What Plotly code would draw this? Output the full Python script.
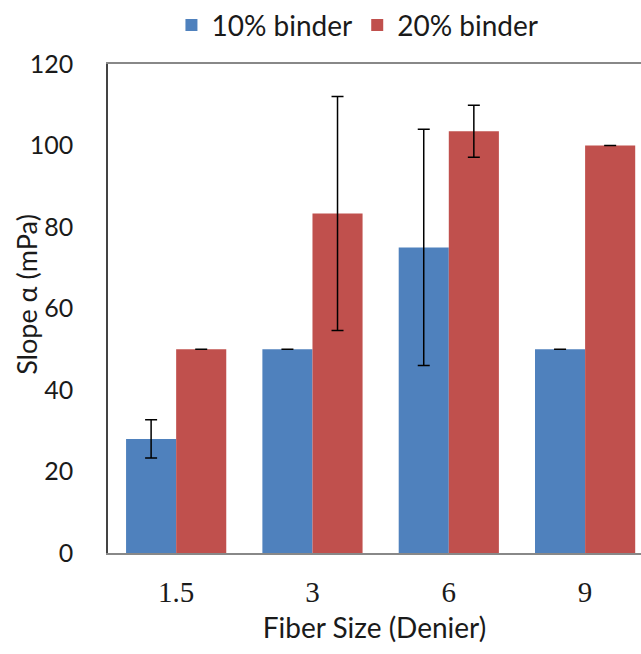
import plotly.graph_objects as go

categories = ["1.5", "3", "6", "9"]
binder10 = [28, 50, 75, 50]
binder10_err = [4.7, 0, 29, 0]
binder20 = [50, 83.3, 103.5, 100]
binder20_err = [0, 28.7, 6.4, 0]
y_ticks = [0, 20, 40, 60, 80, 100, 120]

SANS = "Lato, 'Open Sans', sans-serif"
SERIF = "'Liberation Serif', 'DejaVu Serif', serif"

fig = go.Figure()
fig.add_trace(go.Bar(
    name="10% binder", x=categories, y=binder10,
    marker=dict(color="#4F81BD", line=dict(width=0)),
    error_y=dict(type="data", array=binder10_err, visible=True,
                 color="black", thickness=1.5, width=6),
))
fig.add_trace(go.Bar(
    name="20% binder", x=categories, y=binder20,
    marker=dict(color="#C0504D", line=dict(width=0)),
    error_y=dict(type="data", array=binder20_err, visible=True,
                 color="black", thickness=1.5, width=6),
))

fig.update_layout(
    width=641, height=654,
    margin=dict(l=108, r=0, t=61, b=101),
    paper_bgcolor="white", plot_bgcolor="white",
    barmode="group", bargap=0.265, bargroupgap=0,
    font=dict(family=SANS, size=26, color="#1a1a1a"),
    showlegend=True,
    legend=dict(orientation="h", x=0.468, xanchor="center", y=1.079, yanchor="middle",
                bgcolor="rgba(0,0,0,0)",
                font=dict(family=SANS, size=28), itemwidth=30,
                traceorder="normal"),
    xaxis=dict(
        type="category", range=[-0.5, 3.41],
        showline=True, linecolor="#888888", linewidth=1.5, mirror=True,
        ticks="", showgrid=False, zeroline=False,
        tickfont=dict(family=SERIF, size=29, color="#1a1a1a"),
        ticklabelstandoff=12,
        title=dict(text="Fiber Size (Denier)", font=dict(family=SANS, size=28), standoff=12),
    ),
    yaxis=dict(
        range=[0, 120], tickvals=y_ticks,
        showline=True, linecolor="#444444", linewidth=1.5,
        ticks="", showgrid=False, zeroline=False,
        tickfont=dict(family=SANS, size=25, color="#1a1a1a"),
        ticklabelstandoff=28,
    ),
    annotations=[dict(
        text="Slope α (mPa)", textangle=-90, showarrow=False,
        xref="paper", yref="paper", x=-0.152, y=0.53,
        xanchor="center", yanchor="middle",
        font=dict(family=SANS, size=27, color="#1a1a1a"),
    )],
)

fig.write_html("out.html")
